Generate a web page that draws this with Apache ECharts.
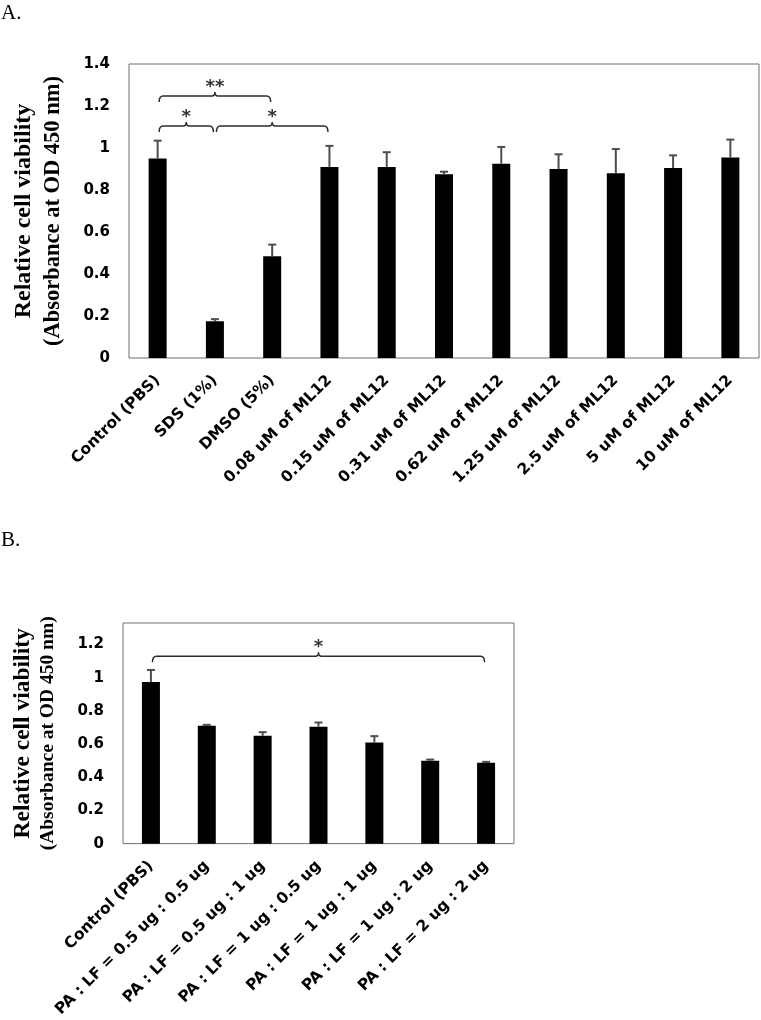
<!DOCTYPE html>
<html>
<head>
<meta charset="utf-8">
<script src="https://cdn.jsdelivr.net/npm/echarts@6/dist/echarts.min.js"></script>
<style>
  html, body { margin: 0; padding: 0; background: #fff; }
  #chart { width: 761px; height: 1020px; }
</style>
</head>
<body>
<div id="chart"></div>
<script>
// ---------- Panel A data ----------
const categoriesA = ['Control (PBS)', 'SDS (1%)', 'DMSO (5%)', '0.08 uM of ML12', '0.15 uM of ML12',
  '0.31 uM of ML12', '0.62 uM of ML12', '1.25 uM of ML12', '2.5 uM of ML12', '5 uM of ML12', '10 uM of ML12'];
const valuesA = [0.95, 0.175, 0.485, 0.91, 0.91, 0.875, 0.925, 0.90, 0.88, 0.905, 0.955];
const errorsA = [0.085, 0.01, 0.055, 0.10, 0.07, 0.012, 0.08, 0.07, 0.115, 0.06, 0.085];
const bracketStartA = [0, 1, 0];
const bracketEndA = [1, 3, 2];
const bracketLevelA = [1.105, 1.105, 1.248];
const bracketMarkA = ['*', '*', '**'];

// ---------- Panel B data ----------
const categoriesB = ['Control (PBS)', 'PA : LF = 0.5 ug : 0.5 ug', 'PA : LF = 0.5 ug : 1 ug',
  'PA : LF = 1 ug : 0.5 ug', 'PA : LF = 1 ug : 1 ug', 'PA : LF = 1 ug : 2 ug', 'PA : LF = 2 ug : 2 ug'];
const valuesB = [0.975, 0.71, 0.65, 0.705, 0.61, 0.50, 0.487];
const errorsB = [0.072, 0.006, 0.022, 0.025, 0.038, 0.007, 0.006];
const bracketStartB = [0];
const bracketEndB = [6];
const bracketLevelB = [1.129];
const bracketMarkB = ['*'];

const yTitleLine1 = 'Relative cell viability';
const yTitleLine2 = '(Absorbance at OD 450 nm)';

const SANS = '"DejaVu Sans", sans-serif';
const SERIF = '"Liberation Serif", "Times New Roman", serif';

function errorData(vals, errs) { return vals.map((v, i) => [i, v, errs[i]]); }
function bracketData(s, e, lv, mk) { return s.map((x, i) => [x, e[i], lv[i], mk[i]]); }

function renderError(params, api) {
  const base = api.coord([api.value(0), api.value(1)]);
  const top = api.coord([api.value(0), api.value(1) + api.value(2)]);
  const style = { stroke: '#4d4d4d', lineWidth: 2 };
  return {
    type: 'group',
    children: [
      { type: 'line', shape: { x1: base[0], y1: base[1], x2: top[0], y2: top[1] }, style },
      { type: 'line', shape: { x1: top[0] - 4, y1: top[1], x2: top[0] + 4, y2: top[1] }, style }
    ]
  };
}

const bracketMarks = { bracketsA: bracketMarkA, bracketsB: bracketMarkB };
function renderBracket(params, api) {
  const p1 = api.coord([api.value(0), api.value(2)]);
  const p2 = api.coord([api.value(1), api.value(2)]);
  const mark = bracketMarks[params.seriesName][params.dataIndex];
  const x1 = p1[0] + 1.5, x2 = p2[0] - 1.5, y = p1[1];
  const mid = (x1 + x2) / 2;
  const d = `M${x1} ${y + 6} Q${x1} ${y} ${x1 + 4} ${y} L${mid - 3} ${y} Q${mid} ${y} ${mid} ${y - 4} ` +
            `Q${mid} ${y} ${mid + 3} ${y} L${x2 - 4} ${y} Q${x2} ${y} ${x2} ${y + 6}`;
  return {
    type: 'group',
    children: [
      { type: 'path', shape: { pathData: d }, style: { stroke: '#2b2b2b', lineWidth: 1.5, fill: null } },
      { type: 'text', x: mid, y: y - 9,
        style: { text: mark, fill: '#333', font: 'bold 18px ' + SANS, textAlign: 'center', textVerticalAlign: 'middle' } }
    ]
  };
}

const chart = echarts.init(document.getElementById('chart'), null, { renderer: 'canvas' });

const xLabel = {
  rotate: 45, interval: 0, margin: 20, padding: [40, 0, 0, 0],
  color: '#000', fontFamily: SANS, fontWeight: 'bold', fontSize: 15.5
};
const yLabel = { color: '#000', fontFamily: SANS, fontWeight: 'bold', fontSize: 15, margin: 19 };

chart.setOption({
  animation: false,
  backgroundColor: '#fff',
  graphic: [
    { type: 'text', left: 1, top: 3, style: { text: 'A.', font: '21px ' + SERIF, fill: '#000' } },
    { type: 'text', left: 1, top: 530, style: { text: 'B.', font: '21px ' + SERIF, fill: '#000' } }
  ],
  grid: [
    { left: 129, top: 64, width: 630, height: 294, show: true, borderColor: '#6f6f6f', borderWidth: 1 },
    { left: 123, top: 623, width: 391, height: 224, show: true, borderColor: '#6f6f6f', borderWidth: 1 }
  ],
  xAxis: [
    { type: 'category', gridIndex: 0, data: categoriesA, axisTick: { show: false }, axisLine: { show: false },
      axisLabel: xLabel },
    { type: 'category', gridIndex: 1, data: categoriesB, axisTick: { show: false }, axisLine: { show: false },
      axisLabel: xLabel }
  ],
  yAxis: [
    { type: 'value', gridIndex: 0, min: 0, max: 1.4, interval: 0.2, splitLine: { show: false },
      axisLine: { show: false }, axisTick: { show: false }, axisLabel: yLabel,
      name: '{a|' + yTitleLine1 + '}\n{b|' + yTitleLine2 + '}', nameLocation: 'middle', nameRotate: 90, nameGap: 63,
      nameTextStyle: { align: 'center', rich: {
        a: { fontFamily: SERIF, fontWeight: 'bold', fontSize: 24, lineHeight: 32, color: '#000' },
        b: { fontFamily: SERIF, fontWeight: 'bold', fontSize: 22.5, lineHeight: 26, color: '#000' } } } },
    { type: 'value', gridIndex: 1, min: 0, max: 1.33, interval: 0.2, splitLine: { show: false },
      axisLine: { show: false }, axisTick: { show: false }, axisLabel: Object.assign({ showMaxLabel: false }, yLabel),
      name: '{a|' + yTitleLine1 + '}\n{b|' + yTitleLine2 + '}', nameLocation: 'middle', nameRotate: 90, nameGap: 65,
      nameTextStyle: { align: 'center', rich: {
        a: { fontFamily: SERIF, fontWeight: 'bold', fontSize: 23.5, lineHeight: 30, color: '#000' },
        b: { fontFamily: SERIF, fontWeight: 'bold', fontSize: 19.5, lineHeight: 20, color: '#000' } } } }
  ],
  series: [
    { type: 'bar', xAxisIndex: 0, yAxisIndex: 0, data: valuesA, barWidth: 18, itemStyle: { color: '#000' } },
    { type: 'custom', name: 'errA', xAxisIndex: 0, yAxisIndex: 0, data: errorData(valuesA, errorsA),
      renderItem: renderError, encode: { x: 0, y: 1 }, z: 3 },
    { type: 'custom', name: 'bracketsA', xAxisIndex: 0, yAxisIndex: 0,
      data: bracketData(bracketStartA, bracketEndA, bracketLevelA, bracketMarkA),
      renderItem: renderBracket, encode: { x: [0, 1], y: 2 }, z: 4 },
    { type: 'bar', xAxisIndex: 1, yAxisIndex: 1, data: valuesB, barWidth: 18, itemStyle: { color: '#000' } },
    { type: 'custom', name: 'errB', xAxisIndex: 1, yAxisIndex: 1, data: errorData(valuesB, errorsB),
      renderItem: renderError, encode: { x: 0, y: 1 }, z: 3 },
    { type: 'custom', name: 'bracketsB', xAxisIndex: 1, yAxisIndex: 1,
      data: bracketData(bracketStartB, bracketEndB, bracketLevelB, bracketMarkB),
      renderItem: renderBracket, encode: { x: [0, 1], y: 2 }, z: 4 }
  ]
});
</script>
</body>
</html>
